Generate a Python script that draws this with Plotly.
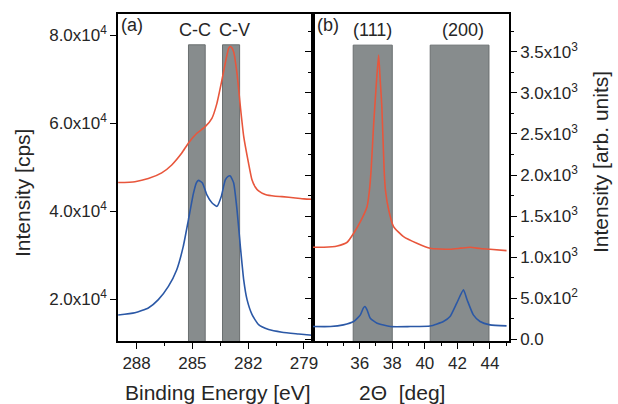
import plotly.graph_objects as go

# ---------------- data ----------------
# Panel (a): XPS C 1s
be_red = [288.99, 288.09, 287.37, 286.65, 286.11, 285.57, 285.21, 284.76, 284.31,
          283.95, 283.68, 283.41, 283.18, 283.05, 282.96, 282.87, 282.78, 282.60,
          282.42, 282.24, 281.98, 281.80, 281.62, 281.44, 281.08, 280.54, 280.18,
          279.46, 279.00, 278.56]
int_red = [4.65e4, 4.67e4, 4.74e4, 4.87e4, 5.05e4, 5.32e4, 5.55e4, 5.77e4, 5.92e4,
           6.11e4, 6.45e4, 6.98e4, 7.47e4, 7.70e4, 7.74e4, 7.71e4, 7.62e4, 7.13e4,
           6.38e4, 5.70e4, 5.09e4, 4.72e4, 4.55e4, 4.46e4, 4.38e4, 4.34e4, 4.33e4,
           4.30e4, 4.28e4, 4.27e4]

be_blue = [288.99, 288.09, 287.37, 286.83, 286.29, 285.84, 285.49, 285.21, 284.94,
           284.78, 284.67, 284.46, 284.22, 283.95, 283.68, 283.45, 283.23, 283.08,
           282.96, 282.78, 282.60, 282.42, 282.24, 282.06, 281.79, 281.44, 280.90,
           280.18, 279.28, 278.56]
int_blue = [1.64e4, 1.69e4, 1.80e4, 1.99e4, 2.29e4, 2.67e4, 3.20e4, 3.81e4, 4.41e4,
            4.65e4, 4.70e4, 4.64e4, 4.37e4, 4.19e4, 4.11e4, 4.33e4, 4.71e4, 4.79e4,
            4.80e4, 4.64e4, 4.03e4, 3.20e4, 2.44e4, 1.99e4, 1.65e4, 1.42e4, 1.31e4,
            1.25e4, 1.21e4, 1.18e4]

# Panel (b): XRD
tt_red = [33.09, 33.80, 34.62, 35.23, 35.63, 36.04, 36.45, 36.60, 36.70, 36.86,
          37.00, 37.16, 37.26, 37.36, 37.50, 37.58, 37.78, 38.08, 38.69, 39.51,
          40.33, 41.55, 42.20, 42.78, 43.40, 44.00, 45.02]
xrd_red = [1121, 1121, 1137, 1182, 1291, 1432, 1615, 1818, 2061, 2629,
           3050, 3459, 3150, 2831, 2061, 1818, 1575, 1372, 1250, 1170,
           1109, 1097, 1110, 1121, 1105, 1097, 1080]

tt_blue = [33.10, 34.20, 35.00, 35.63, 36.04, 36.22, 36.32, 36.45, 36.65, 37.07, 37.88,
           39.10, 40.33, 41.14, 41.55, 41.96, 42.37, 42.60, 42.98, 43.39, 44.00,
           45.02]
xrd_blue = [156, 156, 176, 217, 298, 380, 399, 360, 258, 197, 156,
            156, 162, 217, 277, 440, 602, 480, 298, 217, 176,
            164]

# Highlight bands
xps_bands = [(285.21, 284.31), (283.38, 282.46)]
xrd_bands = [(35.60, 38.00), (40.33, 43.94)]

xps_ticks = [288, 285, 282, 279]
xrd_ticks = [36, 38, 40, 42, 44]
xps_yticks = [2e4, 4e4, 6e4, 8e4]
xps_ytext = ["2.0x10<sup>4</sup>", "4.0x10<sup>4</sup>", "6.0x10<sup>4</sup>", "8.0x10<sup>4</sup>"]
xrd_yticks = [0, 500, 1000, 1500, 2000, 2500, 3000, 3500]
xrd_ytext = ["0.0", "5.0x10<sup>2</sup>", "1.0x10<sup>3</sup>", "1.5x10<sup>3</sup>",
             "2.0x10<sup>3</sup>", "2.5x10<sup>3</sup>", "3.0x10<sup>3</sup>", "3.5x10<sup>3</sup>"]

# ---------------- figure ----------------
RED = "#e8563c"
BLUE = "#2b58a6"
BAND = "#878c8d"
TXT = "#262626"
FONT = "Liberation Sans"

W, H = 618, 404
L, R, T, B = 118, 109, 14, 63
PW, PH = W - L - R, H - T - B
split = (312.5 - L) / PW


def px(xp):
    return (xp - L) / PW


def py(yp):
    return (H - B - yp) / PH


line_kw = dict(width=1.6, shape="spline", smoothing=0.5)
fig = go.Figure()
fig.add_trace(go.Scatter(x=be_red, y=int_red, mode="lines", line=dict(color=RED, **line_kw),
                         xaxis="x", yaxis="y", showlegend=False))
fig.add_trace(go.Scatter(x=be_blue, y=int_blue, mode="lines", line=dict(color=BLUE, **line_kw),
                         xaxis="x", yaxis="y", showlegend=False))
fig.add_trace(go.Scatter(x=tt_red, y=xrd_red, mode="lines", line=dict(color=RED, **line_kw),
                         xaxis="x2", yaxis="y2", showlegend=False))
fig.add_trace(go.Scatter(x=tt_blue, y=xrd_blue, mode="lines", line=dict(color=BLUE, **line_kw),
                         xaxis="x2", yaxis="y2", showlegend=False))

shapes = []
for a, b in xps_bands:
    shapes.append(dict(type="rect", xref="x", yref="y", x0=a, x1=b, y0=0.9e4, y1=7.78e4,
                       fillcolor=BAND, line=dict(color="#6a6f70", width=1), layer="below"))
for a, b in xrd_bands:
    shapes.append(dict(type="rect", xref="x2", yref="y2", x0=a, x1=b, y0=-100, y1=3581,
                       fillcolor=BAND, line=dict(color="#6a6f70", width=1), layer="below"))

axis_common = dict(showline=True, linecolor="black", linewidth=1.5, ticks="outside",
                   tickcolor="black", ticklen=6, tickwidth=1.3, showgrid=False, zeroline=False,
                   tickfont=dict(family=FONT, size=17, color=TXT))

fig.update_layout(
    width=W, height=H,
    margin=dict(l=L, r=R, t=T, b=B),
    plot_bgcolor="white", paper_bgcolor="white",
    shapes=shapes,
    xaxis=dict(domain=[0, split], range=[289.0, 278.54], anchor="y",
               tickvals=xps_ticks, mirror=True,
               minor=dict(dtick=1.5, tick0=279, ticks="outside", ticklen=3, tickcolor="black"),
               **axis_common),
    yaxis=dict(domain=[0, 1], range=[1.05e4, 8.48e4], anchor="x",
               tickvals=xps_yticks, ticktext=xps_ytext, mirror=True,
               **axis_common),
    xaxis2=dict(domain=[split, 1], range=[33.1, 45.17], anchor="y2",
                tickvals=xrd_ticks, mirror=True,
                minor=dict(dtick=1, tick0=33, ticks="outside", ticklen=3, tickcolor="black"),
                **axis_common),
    yaxis2=dict(domain=[0, 1], range=[-20, 3960], anchor="x2", side="right",
                tickvals=xrd_yticks, ticktext=xrd_ytext, mirror="ticks",
                minor=dict(dtick=250, tick0=0, ticks="outside", ticklen=3, tickcolor="black"),
                **axis_common),
)

ann = [
    dict(text="(a)", x=px(119), y=py(25), xanchor="left", yanchor="middle", size=18),
    dict(text="C-C", x=px(195), y=py(30), xanchor="center", yanchor="middle", size=18),
    dict(text="C-V", x=px(234), y=py(30), xanchor="center", yanchor="middle", size=18),
    dict(text="(b)", x=px(315), y=py(25), xanchor="left", yanchor="middle", size=18),
    dict(text="(111)", x=px(372), y=py(30), xanchor="center", yanchor="middle", size=18),
    dict(text="(200)", x=px(463), y=py(30), xanchor="center", yanchor="middle", size=18),
    dict(text="Binding Energy [eV]", x=px(218), y=py(392), xanchor="center", yanchor="middle", size=21),
    dict(text="2\u0398  [deg]", x=px(402), y=py(392), xanchor="center", yanchor="middle", size=21),
]
for a in ann:
    fig.add_annotation(text=a["text"], x=a["x"], y=a["y"], xref="paper", yref="paper",
                       xanchor=a["xanchor"], yanchor=a["yanchor"], showarrow=False,
                       font=dict(family=FONT, size=a["size"], color=TXT))

fig.add_annotation(text="Intensity [cps]", x=px(22), y=py(193), xref="paper", yref="paper",
                   textangle=-90, showarrow=False, xanchor="center", yanchor="middle",
                   font=dict(family=FONT, size=21, color=TXT))
fig.add_annotation(text="Intensity [arb. units]", x=px(600), y=py(162), xref="paper", yref="paper",
                   textangle=-90, showarrow=False, xanchor="center", yanchor="middle",
                   font=dict(family=FONT, size=21, color=TXT))

fig.write_html("out.html")
